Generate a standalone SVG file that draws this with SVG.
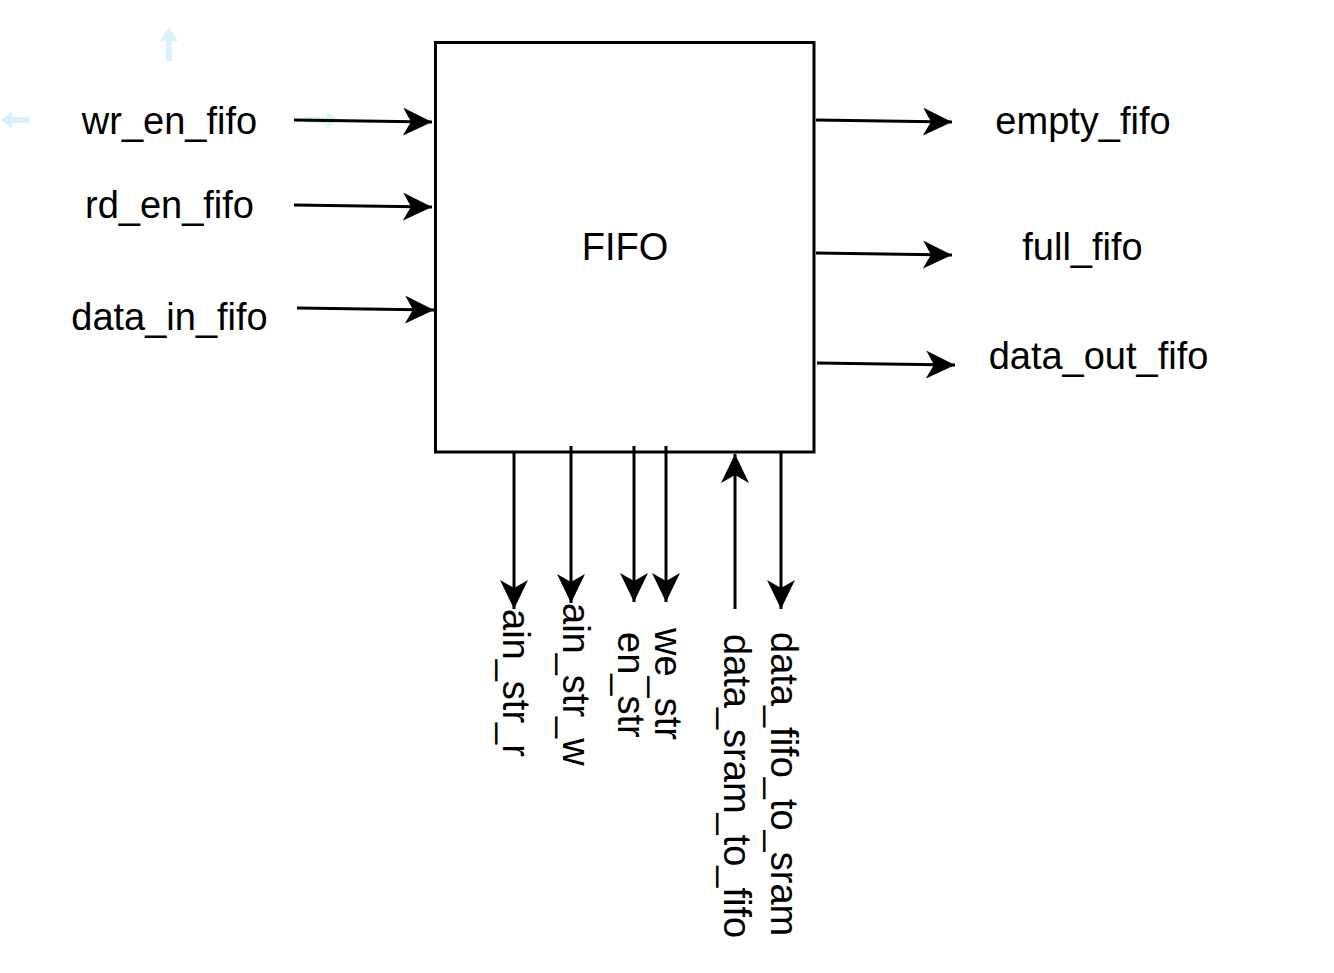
<svg xmlns="http://www.w3.org/2000/svg" width="1334" height="973" viewBox="0 0 1334 973">
<defs>
<style>
.lbl{font-family:"Liberation Sans",Arial,sans-serif;font-size:38px;fill:#000}
.mid{text-anchor:middle}
.wire{stroke:#000;stroke-width:3;fill:none;marker-end:url(#ah)}
.hint{fill:#29b6f2;fill-opacity:0.18}
</style>
<marker id="ah" markerUnits="userSpaceOnUse" markerWidth="30" markerHeight="28" viewBox="0 0 30 28" refX="29" refY="14" orient="auto">
<path d="M0,0 L29,14 L0,28 L8,14 Z" fill="#000"/>
</marker>
</defs>
<rect width="1334" height="973" fill="#fff"/>
<g id="hints">
<path class="hint" d="M169,27 L178,41 L172,41 L172,61 L166,61 L166,41 L160,41 Z"/>
<path class="hint" d="M0,120 L12,112 L12,117 L30,117 L30,123 L12,123 L12,128 Z"/>
<path class="hint" d="M339,120 L327,112 L327,117 L305,117 L305,123 L327,123 L327,128 Z"/>
</g>
<g id="fifo">
<rect x="435.5" y="42.5" width="378.5" height="409.5" fill="#fff" stroke="#000" stroke-width="3"/>
<text class="lbl mid" x="625" y="260">FIFO</text>
</g>
<g id="connectors">
<path class="wire" d="M294,120 L432,122"/>
<path class="wire" d="M294,205 L432,207"/>
<path class="wire" d="M297,308 L434,310"/>
<path class="wire" d="M816,120 L952,122"/>
<path class="wire" d="M816,253 L952,255"/>
<path class="wire" d="M817,363 L955,365"/>
<path class="wire" d="M514,452 L514,609"/>
<path class="wire" d="M571,446 L571,603"/>
<path class="wire" d="M634,446 L634,602"/>
<path class="wire" d="M666,446 L666,602"/>
<path class="wire" d="M735,609 L735,454"/>
<path class="wire" d="M781,452 L781,609"/>
</g>
<g id="wr_en_fifo"><text class="lbl mid" x="169.5" y="134">wr_en_fifo</text></g>
<g id="rd_en_fifo"><text class="lbl mid" x="169.5" y="218">rd_en_fifo</text></g>
<g id="data_in_fifo"><text class="lbl mid" x="169.5" y="330">data_in_fifo</text></g>
<g id="empty_fifo"><text class="lbl mid" x="1083" y="134">empty_fifo</text></g>
<g id="full_fifo"><text class="lbl mid" x="1082.5" y="260">full_fifo</text></g>
<g id="data_out_fifo"><text class="lbl mid" x="1098.5" y="369">data_out_fifo</text></g>
<g id="ain_str_r"><text class="lbl" transform="translate(503,609) rotate(90)">ain_str_r</text></g>
<g id="ain_str_w"><text class="lbl" transform="translate(563,603) rotate(90)">ain_str_w</text></g>
<g id="en_str"><text class="lbl" transform="translate(618,632) rotate(90)">en_str</text></g>
<g id="we_str"><text class="lbl" transform="translate(655,628) rotate(90)">we_str</text></g>
<g id="data_sram_to_fifo"><text class="lbl" transform="translate(724,634) rotate(90)">data_sram_to_fifo</text></g>
<g id="data_fifo_to_sram"><text class="lbl" transform="translate(771,632) rotate(90)">data_fifo_to_sram</text></g>
</svg>
